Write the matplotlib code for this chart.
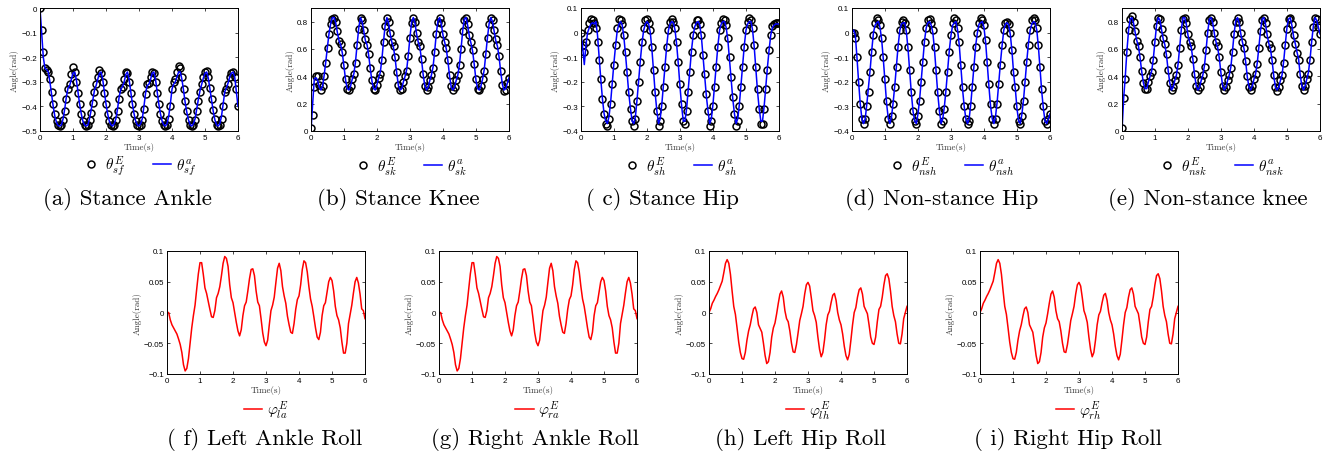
import numpy as np
import matplotlib
matplotlib.use('Agg')
import matplotlib.pyplot as plt
from matplotlib.ticker import FuncFormatter

plt.rcParams['font.family'] = 'Liberation Sans'
plt.rcParams['mathtext.fontset'] = 'cm'

# sample times (s)
t = np.round(np.arange(121) * 0.05, 2)

# stance ankle: experiment (circles) and actual (line)
stance_ankle_exp = [
    0.0, -0.09, -0.18, -0.245, -0.25, -0.26, -0.29, -0.34, -0.39, -0.43,
    -0.46, -0.475, -0.48, -0.475, -0.455, -0.42, -0.37, -0.33, -0.31, -0.27,
    -0.24, -0.26, -0.30, -0.345, -0.39, -0.43, -0.46, -0.475, -0.48, -0.475,
    -0.455, -0.425, -0.385, -0.34, -0.31, -0.28, -0.25, -0.265, -0.30, -0.345,
    -0.39, -0.43, -0.46, -0.475, -0.48, -0.475, -0.455, -0.42, -0.37, -0.33,
    -0.32, -0.29, -0.26, -0.265, -0.30, -0.345, -0.39, -0.43, -0.46, -0.475,
    -0.48, -0.475, -0.455, -0.41, -0.35, -0.31, -0.305, -0.28, -0.26, -0.265,
    -0.30, -0.345, -0.39, -0.43, -0.46, -0.475, -0.48, -0.475, -0.45, -0.40,
    -0.33, -0.30, -0.29, -0.26, -0.235, -0.245, -0.28, -0.33, -0.38, -0.42,
    -0.455, -0.475, -0.48, -0.475, -0.455, -0.42, -0.38, -0.34, -0.31, -0.28,
    -0.26, -0.255, -0.28, -0.325, -0.37, -0.415, -0.45, -0.475, -0.48, -0.475,
    -0.45, -0.40, -0.34, -0.33, -0.31, -0.28, -0.265, -0.26, -0.28, -0.33,
    -0.40]
stance_ankle_act = [
    0.0, -0.10, -0.20, -0.245, -0.25, -0.26, -0.30, -0.35, -0.40, -0.44,
    -0.465, -0.478, -0.48, -0.475, -0.45, -0.41, -0.36, -0.325, -0.315, -0.29,
    -0.265, -0.26, -0.29, -0.34, -0.39, -0.43, -0.46, -0.475, -0.48, -0.475,
    -0.45, -0.415, -0.375, -0.335, -0.315, -0.29, -0.265, -0.26, -0.29, -0.34,
    -0.39, -0.43, -0.46, -0.475, -0.48, -0.47, -0.45, -0.41, -0.36, -0.33,
    -0.32, -0.30, -0.27, -0.26, -0.29, -0.34, -0.39, -0.43, -0.46, -0.475,
    -0.48, -0.47, -0.45, -0.40, -0.345, -0.315, -0.31, -0.29, -0.265, -0.26,
    -0.29, -0.34, -0.39, -0.43, -0.46, -0.475, -0.48, -0.47, -0.44, -0.39,
    -0.33, -0.31, -0.30, -0.28, -0.26, -0.26, -0.29, -0.335, -0.385, -0.425,
    -0.455, -0.475, -0.48, -0.47, -0.45, -0.41, -0.37, -0.335, -0.31, -0.285,
    -0.265, -0.26, -0.285, -0.33, -0.375, -0.42, -0.455, -0.475, -0.48, -0.47,
    -0.44, -0.39, -0.34, -0.325, -0.305, -0.28, -0.265, -0.26, -0.28, -0.34,
    -0.40]

# stance knee
stance_knee_exp = [
    0.02, 0.12, 0.32, 0.40, 0.40, 0.34, 0.30, 0.33, 0.40, 0.50,
    0.61, 0.71, 0.78, 0.82, 0.83, 0.80, 0.73, 0.66, 0.64, 0.58,
    0.48, 0.38, 0.31, 0.30, 0.33, 0.38, 0.42, 0.50, 0.63, 0.75,
    0.83, 0.81, 0.74, 0.67, 0.63, 0.56, 0.46, 0.37, 0.31, 0.30,
    0.34, 0.39, 0.42, 0.52, 0.65, 0.77, 0.83, 0.80, 0.72, 0.65,
    0.62, 0.54, 0.43, 0.34, 0.30, 0.31, 0.36, 0.40, 0.44, 0.55,
    0.68, 0.79, 0.83, 0.80, 0.72, 0.65, 0.62, 0.53, 0.42, 0.33,
    0.30, 0.32, 0.37, 0.41, 0.46, 0.58, 0.71, 0.80, 0.83, 0.79,
    0.71, 0.65, 0.61, 0.52, 0.41, 0.33, 0.30, 0.32, 0.37, 0.41,
    0.48, 0.60, 0.73, 0.81, 0.83, 0.78, 0.70, 0.65, 0.59, 0.49,
    0.38, 0.31, 0.30, 0.33, 0.38, 0.44, 0.56, 0.68, 0.78, 0.83,
    0.81, 0.74, 0.67, 0.63, 0.55, 0.44, 0.34, 0.29, 0.30, 0.35,
    0.39]
stance_knee_act = [
    0.0, 0.20, 0.38, 0.39, 0.37, 0.32, 0.30, 0.33, 0.41, 0.51,
    0.62, 0.72, 0.79, 0.83, 0.83, 0.79, 0.72, 0.66, 0.63, 0.57,
    0.47, 0.37, 0.31, 0.30, 0.33, 0.38, 0.42, 0.51, 0.64, 0.76,
    0.83, 0.80, 0.73, 0.66, 0.63, 0.55, 0.45, 0.36, 0.31, 0.30,
    0.34, 0.39, 0.43, 0.53, 0.66, 0.78, 0.83, 0.79, 0.71, 0.65,
    0.61, 0.53, 0.42, 0.33, 0.30, 0.31, 0.36, 0.40, 0.45, 0.56,
    0.69, 0.80, 0.83, 0.79, 0.71, 0.65, 0.61, 0.52, 0.41, 0.33,
    0.30, 0.32, 0.37, 0.41, 0.47, 0.59, 0.72, 0.81, 0.83, 0.78,
    0.70, 0.65, 0.60, 0.51, 0.40, 0.32, 0.30, 0.32, 0.37, 0.41,
    0.49, 0.61, 0.74, 0.82, 0.83, 0.77, 0.69, 0.64, 0.58, 0.48,
    0.37, 0.31, 0.30, 0.33, 0.38, 0.45, 0.57, 0.69, 0.79, 0.83,
    0.80, 0.73, 0.66, 0.62, 0.54, 0.43, 0.34, 0.30, 0.31, 0.35,
    0.39]

# stance hip
stance_hip_exp = [
    0.0, -0.05, -0.08, -0.04, 0.01, 0.04, 0.055, 0.05, 0.04, 0.02,
    -0.04, -0.11, -0.19, -0.27, -0.33, -0.37, -0.38, -0.35, -0.29, -0.21,
    -0.13, -0.05, 0.02, 0.055, 0.05, 0.035, -0.01, -0.08, -0.16, -0.24,
    -0.31, -0.36, -0.38, -0.35, -0.28, -0.20, -0.12, -0.04, 0.02, 0.05,
    0.055, 0.04, 0.01, -0.06, -0.15, -0.24, -0.32, -0.38, -0.36, -0.30,
    -0.22, -0.14, -0.06, 0.01, 0.045, 0.055, 0.045, 0.02, -0.04, -0.12,
    -0.21, -0.29, -0.36, -0.37, -0.32, -0.24, -0.16, -0.08, -0.01, 0.03,
    0.05, 0.05, 0.035, -0.01, -0.09, -0.17, -0.25, -0.32, -0.38, -0.36,
    -0.30, -0.22, -0.14, -0.06, 0.01, 0.04, 0.055, 0.05, 0.03, -0.02,
    -0.10, -0.18, -0.26, -0.33, -0.38, -0.36, -0.30, -0.22, -0.14, -0.06,
    0.01, 0.045, 0.06, 0.05, 0.02, -0.05, -0.14, -0.23, -0.31, -0.37,
    -0.37, -0.31, -0.23, -0.15, -0.07, -0.01, 0.025, 0.035, 0.04, 0.04,
    0.04]
stance_hip_act = [
    0.0, -0.06, -0.13, -0.05, 0.0, 0.02, 0.035, 0.04, 0.035, 0.045,
    -0.01, -0.10, -0.19, -0.27, -0.33, -0.36, -0.37, -0.34, -0.28, -0.20,
    -0.12, -0.05, 0.01, 0.035, 0.045, 0.03, -0.02, -0.09, -0.17, -0.25,
    -0.31, -0.36, -0.37, -0.34, -0.27, -0.19, -0.11, -0.04, 0.01, 0.035,
    0.045, 0.035, 0.0, -0.07, -0.16, -0.25, -0.32, -0.37, -0.35, -0.29,
    -0.21, -0.13, -0.05, 0.01, 0.035, 0.045, 0.04, 0.01, -0.05, -0.13,
    -0.22, -0.30, -0.36, -0.36, -0.31, -0.23, -0.15, -0.07, -0.01, 0.025,
    0.04, 0.045, 0.03, -0.02, -0.10, -0.18, -0.26, -0.32, -0.37, -0.35,
    -0.29, -0.21, -0.13, -0.05, 0.01, 0.035, 0.045, 0.045, 0.02, -0.03,
    -0.11, -0.19, -0.27, -0.33, -0.37, -0.35, -0.29, -0.21, -0.13, -0.05,
    0.01, 0.035, 0.045, 0.045, 0.01, -0.06, -0.15, -0.24, -0.31, -0.36,
    -0.36, -0.30, -0.22, -0.14, -0.07, -0.01, 0.02, 0.03, 0.035, 0.035,
    0.035]

# non-stance hip
nonstance_hip_exp = [
    0.0, 0.0, -0.02, -0.10, -0.20, -0.29, -0.35, -0.37, -0.35, -0.30,
    -0.24, -0.16, -0.08, -0.01, 0.04, 0.06, 0.05, 0.03, -0.02, -0.10,
    -0.19, -0.28, -0.35, -0.37, -0.34, -0.29, -0.22, -0.14, -0.06, 0.01,
    0.045, 0.05, 0.04, 0.01, -0.06, -0.15, -0.24, -0.32, -0.36, -0.37,
    -0.34, -0.28, -0.20, -0.12, -0.04, 0.02, 0.05, 0.055, 0.04, 0.01,
    -0.06, -0.15, -0.24, -0.32, -0.37, -0.36, -0.31, -0.24, -0.16, -0.08,
    -0.01, 0.04, 0.06, 0.05, 0.02, -0.04, -0.13, -0.22, -0.30, -0.35,
    -0.37, -0.36, -0.30, -0.22, -0.14, -0.06, 0.0, 0.04, 0.06, 0.05,
    0.03, -0.03, -0.12, -0.21, -0.29, -0.35, -0.37, -0.35, -0.29, -0.21,
    -0.13, -0.05, 0.01, 0.04, 0.045, 0.035, 0.0, -0.07, -0.16, -0.22,
    -0.30, -0.36, -0.37, -0.34, -0.28, -0.20, -0.12, -0.05, 0.01, 0.05,
    0.06, 0.05, 0.02, -0.05, -0.14, -0.23, -0.30, -0.36, -0.37, -0.35,
    -0.33]
nonstance_hip_act = [
    0.0, 0.01, -0.01, -0.10, -0.20, -0.29, -0.35, -0.37, -0.35, -0.29,
    -0.22, -0.15, -0.07, 0.0, 0.03, 0.04, 0.045, 0.02, -0.03, -0.11,
    -0.20, -0.29, -0.35, -0.37, -0.34, -0.28, -0.21, -0.13, -0.05, 0.01,
    0.035, 0.04, 0.04, 0.0, -0.07, -0.16, -0.25, -0.32, -0.36, -0.37,
    -0.33, -0.27, -0.19, -0.11, -0.03, 0.02, 0.04, 0.045, 0.03, 0.0,
    -0.07, -0.16, -0.25, -0.32, -0.37, -0.35, -0.30, -0.23, -0.15, -0.07,
    -0.01, 0.03, 0.04, 0.045, 0.01, -0.05, -0.14, -0.23, -0.30, -0.35,
    -0.37, -0.35, -0.29, -0.21, -0.13, -0.05, 0.0, 0.035, 0.04, 0.045,
    0.02, -0.04, -0.13, -0.22, -0.30, -0.35, -0.37, -0.34, -0.28, -0.20,
    -0.12, -0.05, 0.01, 0.035, 0.04, 0.03, -0.01, -0.08, -0.17, -0.23,
    -0.31, -0.36, -0.37, -0.33, -0.27, -0.19, -0.11, -0.04, 0.01, 0.035,
    0.045, 0.04, 0.01, -0.06, -0.15, -0.24, -0.31, -0.36, -0.37, -0.35,
    -0.33]

# non-stance knee
nonstance_knee_exp = [
    0.02, 0.24, 0.38, 0.58, 0.74, 0.82, 0.84, 0.80, 0.73, 0.66,
    0.62, 0.54, 0.44, 0.35, 0.31, 0.31, 0.36, 0.40, 0.43, 0.52,
    0.65, 0.77, 0.83, 0.82, 0.75, 0.68, 0.64, 0.56, 0.45, 0.35,
    0.30, 0.32, 0.37, 0.41, 0.48, 0.61, 0.74, 0.82, 0.83, 0.79,
    0.71, 0.65, 0.62, 0.53, 0.42, 0.33, 0.30, 0.32, 0.37, 0.41,
    0.47, 0.59, 0.72, 0.81, 0.83, 0.80, 0.72, 0.65, 0.62, 0.54,
    0.43, 0.33, 0.30, 0.32, 0.37, 0.41, 0.46, 0.58, 0.71, 0.80,
    0.83, 0.80, 0.72, 0.65, 0.61, 0.51, 0.40, 0.32, 0.30, 0.33,
    0.38, 0.42, 0.49, 0.61, 0.73, 0.81, 0.83, 0.79, 0.71, 0.64,
    0.61, 0.52, 0.41, 0.32, 0.29, 0.32, 0.37, 0.41, 0.50, 0.63,
    0.75, 0.82, 0.83, 0.78, 0.70, 0.64, 0.57, 0.52, 0.42, 0.33,
    0.30, 0.33, 0.38, 0.42, 0.52, 0.65, 0.76, 0.83, 0.82, 0.76,
    0.71]
nonstance_knee_act = [
    0.0, 0.24, 0.40, 0.59, 0.74, 0.82, 0.83, 0.79, 0.72, 0.66,
    0.62, 0.53, 0.43, 0.35, 0.31, 0.31, 0.36, 0.40, 0.44, 0.53,
    0.66, 0.78, 0.83, 0.81, 0.74, 0.67, 0.63, 0.55, 0.44, 0.35,
    0.30, 0.32, 0.37, 0.41, 0.49, 0.62, 0.75, 0.83, 0.83, 0.78,
    0.70, 0.65, 0.61, 0.52, 0.41, 0.33, 0.30, 0.32, 0.37, 0.41,
    0.48, 0.60, 0.73, 0.82, 0.83, 0.79, 0.71, 0.65, 0.61, 0.53,
    0.42, 0.33, 0.30, 0.32, 0.37, 0.41, 0.47, 0.59, 0.72, 0.81,
    0.83, 0.79, 0.71, 0.65, 0.60, 0.50, 0.39, 0.32, 0.30, 0.33,
    0.38, 0.42, 0.50, 0.62, 0.74, 0.82, 0.83, 0.78, 0.70, 0.64,
    0.60, 0.51, 0.40, 0.32, 0.30, 0.32, 0.37, 0.41, 0.51, 0.64,
    0.76, 0.82, 0.83, 0.77, 0.69, 0.64, 0.58, 0.53, 0.41, 0.33,
    0.30, 0.33, 0.38, 0.43, 0.53, 0.66, 0.77, 0.83, 0.81, 0.76,
    0.71]

# roll joints (left/right pairs are the same curve in the figure)
left_ankle_roll = [
    0.0, 0.0, -0.012, -0.02, -0.025, -0.03, -0.035, -0.043, -0.052, -0.065,
    -0.085, -0.095, -0.091, -0.075, -0.05, -0.025, -0.005, 0.012, 0.038, 0.063,
    0.081, 0.081, 0.062, 0.04, 0.031, 0.018, 0.005, -0.007, -0.008, 0.003,
    0.024, 0.031, 0.042, 0.06, 0.08, 0.091, 0.088, 0.075, 0.045, 0.024,
    0.016, 0.0, -0.016, -0.03, -0.038, -0.028, -0.005, 0.011, 0.017, 0.035,
    0.055, 0.07, 0.071, 0.06, 0.035, 0.017, 0.011, -0.01, -0.033, -0.048,
    -0.054, -0.045, -0.02, 0.003, 0.012, 0.025, 0.049, 0.072, 0.08, 0.068,
    0.042, 0.027, 0.015, -0.006, -0.02, -0.032, -0.034, -0.018, 0.005, 0.021,
    0.027, 0.045, 0.07, 0.084, 0.081, 0.066, 0.042, 0.022, 0.01, -0.007,
    -0.025, -0.04, -0.044, -0.032, -0.005, 0.011, 0.016, 0.033, 0.05, 0.057,
    0.052, 0.035, 0.01, -0.005, -0.012, -0.025, -0.048, -0.066, -0.066, -0.05,
    -0.018, -0.003, 0.012, 0.032, 0.05, 0.057, 0.048, 0.03, 0.006, 0.003,
    -0.01]
right_ankle_roll = left_ankle_roll

left_hip_roll = [
    0.0, 0.006, 0.015, 0.02, 0.026, 0.031, 0.037, 0.044, 0.051, 0.065,
    0.08, 0.086, 0.08, 0.062, 0.035, 0.01, -0.003, -0.025, -0.048, -0.065,
    -0.075, -0.076, -0.065, -0.045, -0.03, -0.02, -0.006, 0.006, 0.009, 0.0,
    -0.02, -0.026, -0.032, -0.05, -0.07, -0.083, -0.08, -0.065, -0.04, -0.025,
    -0.017, -0.002, 0.015, 0.03, 0.035, 0.025, 0.003, -0.01, -0.015, -0.03,
    -0.05, -0.064, -0.065, -0.052, -0.033, -0.013, -0.002, 0.01, 0.03, 0.045,
    0.049, 0.043, 0.024, 0.003, -0.005, -0.016, -0.04, -0.06, -0.072, -0.065,
    -0.045, -0.02, -0.004, 0.002, 0.016, 0.028, 0.031, 0.02, 0.0, -0.012,
    -0.02, -0.035, -0.055, -0.07, -0.077, -0.068, -0.045, -0.02, 0.0, 0.008,
    0.025, 0.037, 0.04, 0.03, 0.01, 0.004, -0.002, -0.02, -0.04, -0.05,
    -0.052, -0.04, -0.015, 0.005, 0.01, 0.025, 0.045, 0.06, 0.063, 0.055,
    0.035, 0.01, -0.005, -0.015, -0.035, -0.05, -0.051, -0.035, -0.01, 0.0,
    0.01]
right_hip_roll = left_hip_roll

W = 1341.0
H = 460.0


def fmt(v, pos):
    s = '%g' % v
    return s.replace('-', '\u2212')


def style(ax, ylim, yticks):
    ax.set_xlim(0, 6)
    ax.set_ylim(*ylim)
    ax.set_xticks(range(7))
    ax.set_yticks(yticks)
    ax.xaxis.set_major_formatter(FuncFormatter(fmt))
    ax.yaxis.set_major_formatter(FuncFormatter(fmt))
    ax.tick_params(direction='in', top=True, right=True, length=2.5,
                   width=0.5, labelsize=5.8, pad=2)
    for sp in ax.spines.values():
        sp.set_linewidth(0.7)
    ax.set_xlabel('Time(s)', fontfamily='cmr10', fontsize=6.5, labelpad=1,
                  color='#333333')
    ax.set_ylabel('Angle(rad)', fontfamily='cmr10', fontsize=6.5, labelpad=2,
                  color='#333333')


fig = plt.figure(figsize=(13.41, 4.6), dpi=100)

# top row: experiment vs actual
top = [
    (stance_ankle_exp, stance_ankle_act, 'sf', (-0.5, 0),
     [-0.5, -0.4, -0.3, -0.2, -0.1, 0], 40, '(a) Stance Ankle', 127),
    (stance_knee_exp, stance_knee_act, 'sk', (0, 0.9),
     [0, 0.2, 0.4, 0.6, 0.8], 311, '(b) Stance Knee', 398),
    (stance_hip_exp, stance_hip_act, 'sh', (-0.4, 0.1),
     [-0.4, -0.3, -0.2, -0.1, 0, 0.1], 581, '( c) Stance Hip', 662),
    (nonstance_hip_exp, nonstance_hip_act, 'nsh', (-0.4, 0.1),
     [-0.4, -0.3, -0.2, -0.1, 0, 0.1], 852, '(d) Non-stance Hip', 942),
    (nonstance_knee_exp, nonstance_knee_act, 'nsk', (0, 0.9),
     [0, 0.2, 0.4, 0.6, 0.8], 1122, '(e) Non-stance knee', 1208),
]
for exp, act, sub, ylim, yt, left, cap, capx in top:
    ax = fig.add_axes([left / W, 1 - 132 / H, 198 / W, 123 / H])
    ax.plot(t, exp, 'o', mfc='none', mec='k', ms=5, mew=1.1,
            label=r'$\theta^E_{%s}$' % sub)
    ax.plot(t, act, '-', color='#0000ff', lw=1.1,
            label=r'$\theta^a_{%s}$' % sub)
    style(ax, ylim, yt)
    ax.legend(loc='center', bbox_to_anchor=(0.5, -0.28), ncol=2,
              frameon=False, fontsize=11, handlelength=1.2,
              handletextpad=0.3, columnspacing=1.8)
    fig.text(capx / W, 1 - 200 / H, cap, ha='center', va='center',
             fontfamily='cmr10', fontsize=16.5)

# bottom row: roll joints
bottom = [
    (left_ankle_roll, 'la', 167, '( f) Left Ankle Roll', 265),
    (right_ankle_roll, 'ra', 439, '(g) Right Ankle Roll', 535),
    (left_hip_roll, 'lh', 709, '(h) Left Hip Roll', 800),
    (right_hip_roll, 'rh', 980, '( i) Right Hip Roll', 1068),
]
for vals, sub, left, cap, capx in bottom:
    ax = fig.add_axes([left / W, 1 - 375 / H, 198 / W, 123 / H])
    ax.plot(t, vals, '-', color='#ff0000', lw=1.1,
            label=r'$\varphi^E_{%s}$' % sub)
    style(ax, (-0.1, 0.1), [-0.1, -0.05, 0, 0.05, 0.1])
    ax.legend(loc='center', bbox_to_anchor=(0.5, -0.29), frameon=False,
              fontsize=11, handlelength=1.2, handletextpad=0.3)
    fig.text(capx / W, 1 - 440 / H, cap, ha='center', va='center',
             fontfamily='cmr10', fontsize=16.5)

fig.savefig('out.png', dpi=100)
